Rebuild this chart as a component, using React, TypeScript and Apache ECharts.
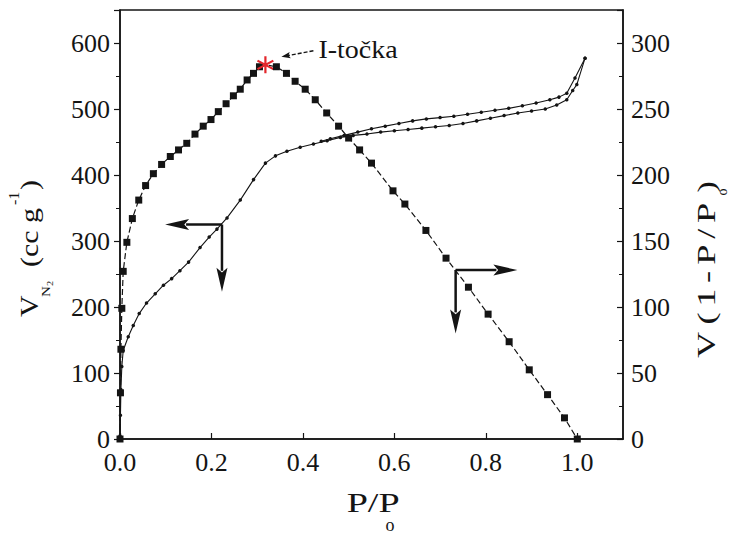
import React, { useEffect, useRef } from 'react';
import * as echarts from 'echarts';

// ---- data ----
// V(1-P/Po) curve, right axis, square markers
const sqX = [0.0, 0.001, 0.002, 0.004, 0.007, 0.015, 0.027, 0.041, 0.056, 0.073, 0.091, 0.110, 0.128, 0.146, 0.164, 0.182, 0.199, 0.215, 0.232, 0.248, 0.263, 0.278, 0.292, 0.305, 0.318, 0.342, 0.364, 0.383, 0.405, 0.427, 0.452, 0.478, 0.500, 0.524, 0.550, 0.597, 0.623, 0.669, 0.713, 0.762, 0.805, 0.851, 0.895, 0.935, 0.972, 1.000];
const sqY = [0, 35, 68, 99, 127, 149, 167, 181, 192, 201, 208, 214, 219, 224, 231, 237, 242, 248, 254, 260, 265, 272, 277, 282, 283.5, 282, 277, 271, 265, 257, 247, 237, 228, 219, 209, 188, 178, 158, 137, 115, 94.6, 73.7, 52.4, 33.6, 16, 0];
const STAR_INDEX = 24; // "I-točka"

// N2 isotherm, adsorption branch, left axis
const adsX = [0.0, 0.001, 0.002, 0.004, 0.007, 0.018, 0.029, 0.042, 0.058, 0.077, 0.095, 0.113, 0.131, 0.150, 0.175, 0.195, 0.212, 0.234, 0.263, 0.292, 0.318, 0.340, 0.365, 0.394, 0.423, 0.453, 0.482, 0.51, 0.54, 0.57, 0.60, 0.63, 0.66, 0.69, 0.72, 0.75, 0.78, 0.81, 0.84, 0.87, 0.90, 0.93, 0.955, 0.977, 0.99, 0.999, 1.017];
const adsY = [5, 36, 75, 110, 134, 155, 172, 190, 206, 220, 233, 243, 255, 268, 290, 306, 318, 335, 362, 393, 418, 429, 436, 442, 447, 452, 457, 460, 462, 465, 467, 469, 471, 473, 475, 478, 482, 486, 490, 494, 497, 500, 506, 514, 528, 537, 577];

// N2 isotherm, desorption branch, left axis
const desX = [1.017, 0.995, 0.977, 0.96, 0.94, 0.91, 0.88, 0.85, 0.82, 0.79, 0.76, 0.73, 0.70, 0.67, 0.64, 0.61, 0.58, 0.55, 0.52, 0.49, 0.46, 0.44];
const desY = [577, 547, 524, 518, 514, 509, 505, 501, 498, 495, 492, 489, 487, 485, 482, 478, 474, 470, 465, 460, 455, 451];

// annotation arrows (data units)
const leftArrow = { corner: [0.223, 325], tipX: 0.0986, tipY: 223 };   // left axis
const rightArrow = { corner: [0.734, 128], tipX: 0.869, tipY: 80 };    // right axis

const FONT = "'Liberation Serif', 'Times New Roman', serif";
const INK = '#141414';
const STAR = 'path://M8.8,0L11.2,0L11.2,20L8.8,20ZM0.74,6.04L1.94,3.96L19.26,13.96L18.06,16.04ZM0.74,13.96L18.06,3.96L19.26,6.04L1.94,16.04Z';

function arrow(from: number[], to: number[], head = 24, half = 5.5, width = 2.5, dash?: number[]) {
  const dx = to[0] - from[0], dy = to[1] - from[1];
  const L = Math.hypot(dx, dy) || 1;
  const ux = dx / L, uy = dy / L, nx = -uy, ny = ux;
  const bx = to[0] - ux * head, by = to[1] - uy * head;
  return [
    { type: 'line', silent: true, shape: { x1: from[0], y1: from[1], x2: bx + ux * 3, y2: by + uy * 3 }, style: { stroke: INK, lineWidth: width, lineDash: dash } },
    { type: 'polygon', silent: true, shape: { points: [to, [bx + nx * half, by + ny * half], [bx + ux * head * 0.2, by + uy * head * 0.2], [bx - nx * half, by - ny * half]] }, style: { fill: INK } },
  ];
}

const W: Record<string, number> = { V: 0.722, '(': 0.333, '1': 0.5, '-': 0.333, P: 0.556, '/': 0.278, ')': 0.333 };

function txt(x: number, y: number, text: string, size: number, align = 'left', extra: any = {}) {
  return {
    type: 'text', x, y, silent: true, ...extra,
    style: { text, fontFamily: FONT, fontSize: size, fill: INK, align, verticalAlign: 'middle' },
  };
}

export default function App() {
  const ref = useRef<HTMLDivElement>(null);
  useEffect(() => {
    const el = ref.current!;
    const chart = echarts.init(el, null, { renderer: 'svg' });

    const sqData = sqX.map((x, i) =>
      i === STAR_INDEX
        ? { value: [x, sqY[i]], symbol: STAR, symbolSize: 17, itemStyle: { color: '#e3262b' } }
        : [x, sqY[i]]
    );
    const adsData = adsX.map((x, i) => [x, adsY[i]]);
    const desData = desX.map((x, i) => [x, desY[i]]);

    const labelStyle = { fontFamily: FONT, fontSize: 26, color: INK };
    const axisLine = { show: true, onZero: false, lineStyle: { color: INK, width: 1.5 } };

    chart.setOption({
      animation: false,
      backgroundColor: '#fff',
      grid: { left: 120, right: 109, top: 10, bottom: 95, show: true, borderColor: INK, borderWidth: 1.5, backgroundColor: 'transparent' },
      xAxis: {
        type: 'value', min: 0, max: 1.1, interval: 0.2,
        axisLine, splitLine: { show: false },
        axisTick: { inside: true, length: 6, lineStyle: { color: INK, width: 1.2 } },
        axisLabel: { ...labelStyle, margin: 10, showMaxLabel: false, formatter: (v: number) => v.toFixed(1) },
      },
      yAxis: [
        {
          type: 'value', min: 0, max: 650, interval: 100, position: 'left',
          axisLine, splitLine: { show: false },
          axisTick: { inside: false, length: 6, lineStyle: { color: INK, width: 1.2 } },
          minorTick: { show: true, splitNumber: 2, length: 4, lineStyle: { color: INK, width: 1 } },
          axisLabel: { ...labelStyle, margin: 10, showMaxLabel: false },
        },
        {
          type: 'value', min: 0, max: 325, interval: 50, position: 'right',
          axisLine, splitLine: { show: false },
          axisTick: { inside: true, length: 6, lineStyle: { color: INK, width: 1.2 } },
          minorTick: { show: true, splitNumber: 2, length: 4, lineStyle: { color: INK, width: 1 } },
          axisLabel: { ...labelStyle, margin: 8, showMaxLabel: false },
        },
      ],
      series: [
        {
          type: 'line', yAxisIndex: 1, data: sqData, symbol: 'rect', symbolSize: 7,
          itemStyle: { color: INK }, lineStyle: { color: INK, width: 1.2, type: [6, 3] }, z: 3,
        },
        {
          type: 'line', yAxisIndex: 0, data: adsData, symbol: 'circle', symbolSize: 3.5,
          itemStyle: { color: INK }, lineStyle: { color: INK, width: 1.1 }, z: 2,
        },
        {
          type: 'line', yAxisIndex: 0, data: desData, symbol: 'circle', symbolSize: 3.5,
          itemStyle: { color: INK }, lineStyle: { color: INK, width: 1.1 }, z: 2,
        },
      ],
    });

    const p = (si: number, v: number[]) => chart.convertToPixel({ seriesIndex: si }, v) as number[];

    const la = p(1, leftArrow.corner);
    const laL = p(1, [leftArrow.tipX, leftArrow.corner[1]]);
    const laD = p(1, [leftArrow.corner[0], leftArrow.tipY]);
    const ra = p(0, rightArrow.corner);
    const raR = p(0, [rightArrow.tipX, rightArrow.corner[1]]);
    const raD = p(0, [rightArrow.corner[0], rightArrow.tipY]);
    const s = p(0, [sqX[STAR_INDEX], sqY[STAR_INDEX]]);

    const f = 26;
    // right title characters
    const rChars = ['V', '(', '1', '-', 'P', '/', 'P'];
    const rTotal = rChars.reduce((a, c) => a + W[c], 0) * f;
    const rScale = 164 / rTotal;
    let cum = 0;
    const rTexts: any[] = rChars.map((c) => {
      const cx = (cum + W[c] * f / 2) * rScale;
      cum += W[c] * f;
      return txt(cx, -8.8, c, f, 'center', { scaleX: 1.4 });
    });
    rTexts.push(txt(171, 7, 'o', 14, 'center'));
    rTexts.push(txt(176, -8.8, ')', f, 'center', { scaleX: 1.3 }));

    const graphic: any[] = [
      ...arrow(la, laL),
      ...arrow(la, laD),
      ...arrow(ra, raR),
      ...arrow(ra, raD),
      ...arrow([s[0] + 48, s[1] - 14], [s[0] + 16, s[1] - 8], 9, 3.2, 1.4, [4, 2]),
      txt(s[0] + 53, s[1] - 15, 'I-točka', 25, 'left', { scaleX: 1.12 }),
      // x-axis title
      txt(346.7, 502.2, 'P/P', 28, 'left', { scaleX: 1.36 }),
      txt(390, 525, 'o', 18, 'center'),
      // left title
      {
        type: 'group', x: 38.3, y: 317, rotation: Math.PI / 2, scaleX: 1.15,
        children: [
          txt(0, -8.8, 'V', f),
          txt(17.4, 7.3, 'N', 13),
          txt(27, 11, '2', 9),
          txt(43.5, -8.8, '(cc g', f),
          txt(97.4, -24, '-1', 14),
          txt(110.4, -8.8, ')', f),
        ],
      },
      // right title
      { type: 'group', x: 715, y: 363, rotation: Math.PI / 2, children: rTexts },
    ];
    chart.setOption({ graphic });

    return () => chart.dispose();
  }, []);
  return <div ref={ref} style={{ position: 'fixed', left: 0, top: 0, width: 732, height: 534, background: '#fff' }} />;
}
